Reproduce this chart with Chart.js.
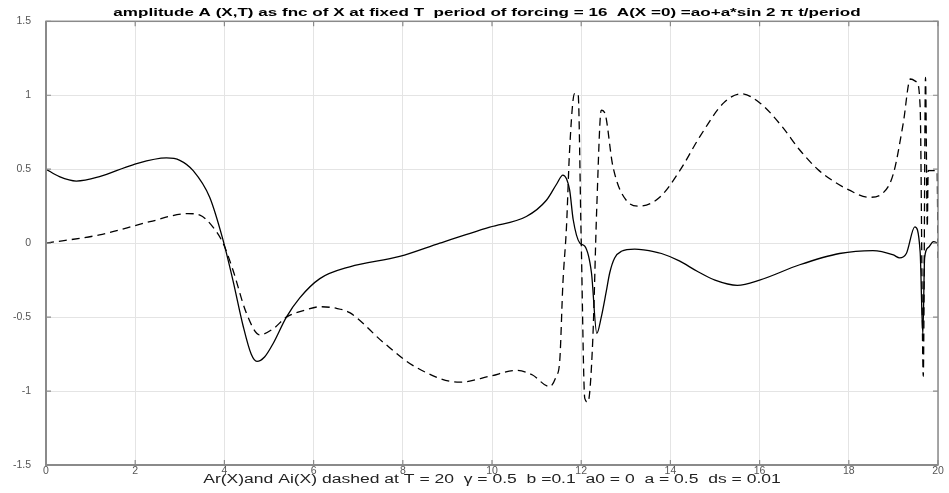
<!DOCTYPE html>
<html>
<head>
<meta charset="utf-8">
<script src="https://cdn.jsdelivr.net/npm/chart.js@4"></script>
<style>
html,body{margin:0;padding:0;background:#fff;}
#wrap{width:949px;height:493px;}
</style>
</head>
<body>
<div id="wrap"><canvas id="c" width="949" height="493"></canvas></div>
<script>
// Ar(X): solid curve
const arX = [0,0.3,0.68,1.2,1.95,2.7,3.0,3.3,3.67,3.97,4.19,4.42,4.6,4.73,4.9,5.09,5.39,5.69,6.14,6.81,7.93,8.83,9.95,10.77,11.22,11.45,11.59,11.74,11.82,11.97,12.08,12.23,12.35,12.45,12.56,12.64,12.75,12.9,13.2,13.4,13.8,14.2,14.6,15.0,15.5,16.0,16.9,17.79,18.54,19.0,19.14,19.29,19.48,19.6,19.66,19.7,19.78,19.9,20];
const arY = [0.50,0.45,0.42,0.45,0.53,0.576,0.56,0.49,0.31,0.02,-0.25,-0.56,-0.75,-0.80,-0.77,-0.68,-0.50,-0.37,-0.24,-0.16,-0.09,0.0,0.108,0.18,0.29,0.40,0.46,0.36,0.16,0.0,-0.02,-0.2,-0.61,-0.50,-0.33,-0.2,-0.10,-0.055,-0.04,-0.045,-0.07,-0.12,-0.19,-0.25,-0.285,-0.25,-0.146,-0.07,-0.05,-0.08,-0.10,-0.07,0.11,-0.06,-0.62,-0.1,-0.03,0.01,0.0];
// Ai(X): dashed curve
const aiX = [0,1.2,2.33,3.18,3.45,3.74,3.97,4.19,4.49,4.79,5.09,5.39,5.84,6.14,6.5,6.81,7.56,8.30,9.28,9.95,10.55,10.9,11.29,11.44,11.52,11.59,11.67,11.74,11.85,11.93,12.0,12.08,12.15,12.26,12.35,12.45,12.53,12.71,13.01,13.31,13.76,14.21,14.66,15.2,15.59,16.0,16.5,16.9,17.3,17.65,18.0,18.45,18.77,19.0,19.22,19.38,19.52,19.6,19.67,19.72,19.76,19.78,19.98,20];
const aiY = [0,0.056,0.145,0.20,0.19,0.11,0.0,-0.18,-0.47,-0.62,-0.58,-0.50,-0.45,-0.43,-0.44,-0.47,-0.67,-0.84,-0.94,-0.90,-0.86,-0.89,-0.97,-0.90,-0.79,-0.27,0.11,0.63,1.01,1.01,0.02,-1.05,-1.075,-0.65,0.25,0.90,0.88,0.52,0.29,0.25,0.31,0.49,0.72,0.95,1.01,0.95,0.79,0.63,0.50,0.42,0.36,0.31,0.34,0.47,0.81,1.11,1.09,0.92,-0.90,1.12,0.11,0.49,0.49,-0.1];
const xTicks = [0,2,4,6,8,10,12,14,16,18,20];
const yTicks = [-1.5,-1,-0.5,0,0.5,1,1.5];
const titleText = "amplitude A (X,T) as fnc of X at fixed T  period of forcing = 16  A(X =0) =ao+a*sin 2 \u03C0 t/period";
const xLabel = "Ar(X)and Ai(X) dashed at T = 20  \u03B3 = 0.5  b =0.1  a0 = 0  a = 0.5  ds = 0.01";

const toPts = (xs, ys) => xs.map((x, i) => ({x: x, y: ys[i]}));

const boxPlugin = {
  id: 'box',
  afterDraw(chart) {
    const {ctx, chartArea: a, scales} = chart;
    ctx.save();
    ctx.strokeStyle = '#8a8a8a';
    ctx.lineWidth = 1.5;
    ctx.strokeRect(a.left, a.top, a.right - a.left, a.bottom - a.top);
    ctx.lineWidth = 2;
    ctx.beginPath();
    ctx.moveTo(a.left, a.top); ctx.lineTo(a.left, a.bottom); ctx.lineTo(a.right, a.bottom);
    ctx.stroke();
    ctx.lineWidth = 1.2;
    ctx.beginPath();
    const L = 5;
    xTicks.forEach(v => {
      const px = scales.x.getPixelForValue(v);
      ctx.moveTo(px, a.bottom); ctx.lineTo(px, a.bottom - L);
      ctx.moveTo(px, a.top); ctx.lineTo(px, a.top + L);
    });
    yTicks.forEach(v => {
      const py = scales.y.getPixelForValue(v);
      ctx.moveTo(a.left, py); ctx.lineTo(a.left + L, py);
      ctx.moveTo(a.right, py); ctx.lineTo(a.right - L, py);
    });
    ctx.stroke();
    // title and x-axis caption (wide lettering as in the original)
    const cx = (a.left + a.right) / 2;
    ctx.fillStyle = '#000';
    ctx.textAlign = 'center';
    ctx.textBaseline = 'alphabetic';
    ctx.save();
    ctx.font = 'bold 11px "Liberation Sans"';
    ctx.translate(cx - 5, 15.5);
    ctx.scale(1.55, 1);
    ctx.fillText(titleText, 0, 0);
    ctx.restore();
    ctx.save();
    ctx.fillStyle = '#222';
    ctx.font = '12px "Liberation Sans"';
    ctx.translate(cx, 483);
    ctx.scale(1.46, 1);
    ctx.fillText(xLabel, 0, 0);
    ctx.restore();
    ctx.restore();
  }
};

new Chart(document.getElementById('c'), {
  type: 'line',
  data: {
    datasets: [
      {data: toPts(arX, arY), borderColor: '#000', borderWidth: 1.3, pointRadius: 0, cubicInterpolationMode: 'monotone', fill: false},
      {data: toPts(aiX, aiY), borderColor: '#000', borderWidth: 1.3, borderDash: [8, 5], pointRadius: 0, cubicInterpolationMode: 'monotone', fill: false}
    ]
  },
  options: {
    responsive: false,
    animation: false,
    devicePixelRatio: 1,
    layout: {padding: {left: 0, right: 11, top: 20, bottom: 0}},
    plugins: {
      legend: {display: false},
      tooltip: {enabled: false},
      title: {display: false}
    },
    scales: {
      x: {
        type: 'linear',
        min: 0, max: 20,
        afterBuildTicks: s => { s.ticks = xTicks.map(v => ({value: v})); },
        afterFit: s => { s.height = 28; },
        grid: {color: '#e4e4e4', lineWidth: 1, drawTicks: false},
        border: {display: false},
        ticks: {color: '#555', font: {family: 'Liberation Sans', size: 10.5}, padding: 0, maxRotation: 0, callback: v => String(v)}
      },
      y: {
        type: 'linear',
        min: -1.5, max: 1.5,
        afterBuildTicks: s => { s.ticks = yTicks.map(v => ({value: v})); },
        afterFit: s => { s.width = 46; },
        grid: {color: '#e4e4e4', lineWidth: 1, drawTicks: false},
        border: {display: false},
        ticks: {color: '#555', font: {family: 'Liberation Sans', size: 10.5}, padding: 15, callback: v => String(v)}
      }
    }
  },
  plugins: [boxPlugin]
});
</script>
</body>
</html>
